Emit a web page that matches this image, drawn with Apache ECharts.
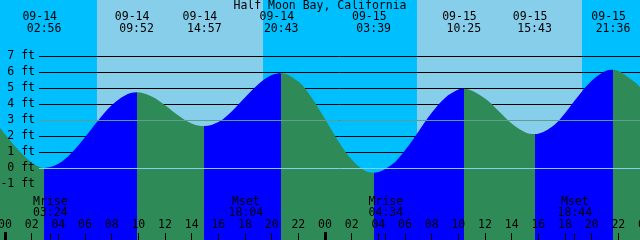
<!DOCTYPE html>
<html><head><meta charset="utf-8">
<script src="https://cdn.jsdelivr.net/npm/echarts@6/dist/echarts.min.js"></script>
<style>html,body{margin:0;padding:0;background:#00BFFF;overflow:hidden}#c{width:640px;height:240px}</style>
</head><body><div id="c"></div>
<script>
// ---------- data ----------
const stationName = 'Half Moon Bay, California';
const dayLabels = ['09-14', '09-15'];

// tide curve samples: hours since 09-14 00:00 and height in ft
const tideHours = [-0.375, 0, 1, 2, 2.933, 4, 5, 6, 7, 8, 9, 9.867, 11, 12, 13, 14, 14.95,
  16, 17, 18, 19, 20, 20.717, 22, 23, 24, 25, 26, 27, 27.65, 29, 30, 31, 32, 33, 34, 34.417,
  36, 37, 38, 39, 39.717, 41, 42, 43, 44, 45, 45.6, 47, 47.625];
const tideHeights = [2.55, 2.15, 1.15, 0.38, 0.03, 0.29, 0.98, 1.96, 3.02, 3.95, 4.57, 4.76, 4.50, 3.96, 3.32, 2.82, 2.65,
  2.90, 3.57, 4.44, 5.27, 5.84, 5.96, 5.43, 4.42, 3.09, 1.71, 0.56, -0.14, -0.26, 0.23, 1.14, 2.30, 3.48, 4.41, 4.93, 4.98,
  4.38, 3.61, 2.81, 2.27, 2.15, 2.60, 3.46, 4.53, 5.48, 6.08, 6.17, 5.55, 5.1];

// high / low tide events
const extremaDay = [0, 0, 0, 0, 1, 1, 1, 1];
const extremaTimes = ['02:56', '09:52', '14:57', '20:43', '03:39', '10:25', '15:43', '21:36'];
const extremaKinds = ['L', 'H', 'L', 'H', 'L', 'H', 'L', 'H'];

// moon events
const moonDay = [0, 0, 1, 1];
const moonNames = ['Mrise', 'Mset', 'Mrise', 'Mset'];
const moonTimes = ['03:24', '18:04', '04:34', '18:44'];

// sunrise / sunset
const sunDay = [0, 0, 1, 1];
const sunTimes = ['06:54', '19:20', '06:54', '19:17'];

// axis ticks
const heightTicks = [-1, 0, 1, 2, 3, 4, 5, 6, 7];
const hourTicks = [0, 2, 4, 6, 8, 10, 12, 14, 16, 18, 20, 22, 24, 26, 28, 30, 32, 34, 36, 38, 40, 42, 44, 46, 48];
const midnightTicks = [0, 24];
const datumLevel = 0;
const meanLevel = 3;

// ---------- styling ----------
const X_MIN = -0.375, X_MAX = 47.625, Y_MIN = -4.46875, Y_MAX = 10.53125;
const NIGHT = '#00BFFF', DAY = '#87CEEB', FLOOD = '#0000FF', EBB = '#2E8B57';
const DATUM_COLOR = '#87CEEB', MSL_COLOR = '#5F9E8F';
const FF = '"DejaVu Sans Mono", monospace', FS = 11.5;

function toHour(day, hhmm) { const p = hhmm.split(':').map(Number); return day * 24 + p[0] + p[1] / 60; }
const extremaHours = extremaTimes.map((t, i) => toHour(extremaDay[i], t));
const moonHours = moonTimes.map((t, i) => toHour(moonDay[i], t));
const sunHours = sunTimes.map((t, i) => toHour(sunDay[i], t));

// day / night bands
const bounds = [X_MIN].concat(sunHours, [X_MAX]);
const bands = [];
for (let i = 0; i < bounds.length - 1; i++) bands.push([bounds[i], bounds[i + 1], i % 2]);

// flood / ebb pieces
const pieces = [];
let prev = null;
extremaHours.forEach((h, i) => {
  const color = extremaKinds[i] === 'L' ? EBB : FLOOD;
  pieces.push(prev === null ? { lt: h, color } : { gte: prev, lt: h, color });
  prev = h;
});
pieces.push({ gte: prev, color: extremaKinds[extremaKinds.length - 1] === 'H' ? EBB : FLOOD });

function txt(text, x, y, align, extra) {
  return Object.assign({ type: 'text', style: { text, x, y, fill: '#000', fontFamily: FF, fontSize: FS,
    align: align, verticalAlign: 'middle', textAlign: align, textVerticalAlign: 'middle' } }, extra || {});
}
const crisp = v => Math.floor(v) + 0.5;

const chart = echarts.init(document.getElementById('c'), null, { renderer: 'canvas' });
chart.setOption({
  animation: false,
  backgroundColor: NIGHT,
  title: { text: stationName, left: 'center', top: 0, padding: 0,
    textStyle: { fontFamily: FF, fontSize: FS, fontWeight: 'normal', color: '#000' } },
  grid: { left: 0, right: 0, top: 0, bottom: 0 },
  xAxis: { type: 'value', min: X_MIN, max: X_MAX, show: false },
  yAxis: { type: 'value', min: Y_MIN, max: Y_MAX, show: false },
  visualMap: { type: 'piecewise', show: false, dimension: 0, seriesIndex: 2, pieces },
  series: [
    { // day/night background
      type: 'custom', z: 1, silent: true, data: bands,
      renderItem(params, api) {
        const p1 = api.coord([api.value(0), Y_MAX]), p2 = api.coord([api.value(1), Y_MIN]);
        const x1 = Math.round(p1[0]), x2 = Math.round(p2[0]);
        return { type: 'rect', shape: { x: x1, y: p1[1], width: x2 - x1, height: p2[1] - p1[1] },
          style: { fill: api.value(2) ? DAY : NIGHT } };
      }
    },
    { // black height lines
      type: 'custom', z: 2, silent: true, data: heightTicks.map(v => [X_MIN, v]),
      renderItem(params, api) {
        const y = crisp(api.coord([0, api.value(1)])[1]);
        return { type: 'line', shape: { x1: 39, y1: y, x2: 640, y2: y }, style: { stroke: '#000', lineWidth: 1 } };
      }
    },
    { // tide curve
      type: 'line', z: 3, silent: true, smooth: 0.35, showSymbol: false,
      data: tideHours.map((h, i) => [h, tideHeights[i]]),
      lineStyle: { width: 0 },
      areaStyle: { opacity: 1, origin: 'start' }
    },
    { // datum & mean level lines
      type: 'custom', z: 4, silent: true, data: [[X_MIN, datumLevel, 0], [X_MIN, meanLevel, 1]],
      renderItem(params, api) {
        const y = crisp(api.coord([0, api.value(1)])[1]);
        return { type: 'line', shape: { x1: 39, y1: y, x2: 640, y2: y },
          style: { stroke: api.value(2) ? MSL_COLOR : DATUM_COLOR, lineWidth: 1 } };
      }
    },
    { // height labels
      type: 'custom', z: 5, silent: true, data: heightTicks.map(v => [X_MIN, v]),
      renderItem(params, api) {
        const y = api.coord([0, api.value(1)])[1];
        return txt(api.value(1) + ' ft', 35, y, 'right');
      }
    },
    { // extrema labels
      type: 'custom', z: 5, silent: true, data: extremaHours.map(h => [h, 0]),
      renderItem(params, api) {
        const i = params.dataIndex;
        const x = api.coord([api.value(0), 0])[0];
        return { type: 'group', children: [
          txt(dayLabels[extremaDay[i]], x - 4.4, 17.5, 'center'),
          txt(extremaTimes[i], x, 29.5, 'center')
        ] };
      }
    },
    { // moon labels + ticks
      type: 'custom', z: 5, silent: true, data: moonHours.map(h => [h, 0]),
      renderItem(params, api) {
        const i = params.dataIndex;
        const x = api.coord([api.value(0), 0])[0];
        return { type: 'group', children: [
          txt(moonNames[i], x, 202, 'center'),
          txt(moonTimes[i], x, 213.5, 'center'),
          { type: 'line', shape: { x1: crisp(x), y1: 233, x2: crisp(x), y2: 240 }, style: { stroke: '#000', lineWidth: 1 } }
        ] };
      }
    },
    { // hour ticks + labels
      type: 'custom', z: 5, silent: true, data: hourTicks.map(h => [h, 0]),
      renderItem(params, api) {
        const h = api.value(0);
        const x = api.coord([h, 0])[0];
        const lab = String(h % 24).padStart(2, '0');
        return { type: 'group', children: [
          txt(lab, x, 225.5, 'center'),
          { type: 'line', shape: { x1: crisp(x), y1: 233, x2: crisp(x), y2: 240 }, style: { stroke: '#000', lineWidth: 1 } }
        ] };
      }
    },
    { // midnight marks
      type: 'custom', z: 5, silent: true, data: midnightTicks.map(h => [h, 0]),
      renderItem(params, api) {
        const x = api.coord([api.value(0), 0])[0];
        return { type: 'rect', shape: { x: Math.floor(x) - 1, y: 232, width: 3, height: 8 }, style: { fill: '#000' } };
      }
    }
  ],
  graphic: [
    { type: 'group', z: 10, children: [
      { type: 'line', shape: { x1: 2, y1: 139.5, x2: 10, y2: 139.5 }, style: { stroke: '#000', lineWidth: 1 } },
      { type: 'line', shape: { x1: 5.5, y1: 136, x2: 5.5, y2: 144 }, style: { stroke: '#000', lineWidth: 1 } }
    ] }
  ]
});
</script>
</body></html>
